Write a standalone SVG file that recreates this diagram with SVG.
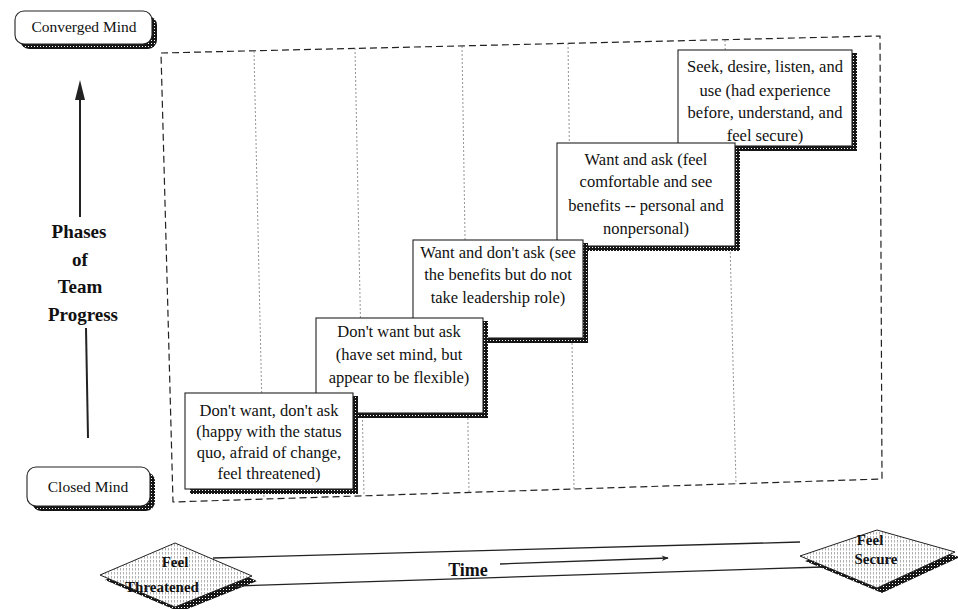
<svg xmlns="http://www.w3.org/2000/svg" width="958" height="609" viewBox="0 0 958 609">
<defs>
<pattern id="dots" width="3" height="3" patternUnits="userSpaceOnUse"><rect width="3" height="3" fill="#161616"/><rect x="1" y="1" width="1" height="1" fill="#fff"/></pattern>
<pattern id="hatch" width="3" height="4" patternUnits="userSpaceOnUse"><rect width="3" height="4" fill="#fff"/><rect x="0" y="0" width="0.8" height="2.5" fill="#9a9a9a"/></pattern>
<marker id="arr" viewBox="0 0 10 10" refX="9" refY="5" markerWidth="9" markerHeight="7" orient="auto" markerUnits="userSpaceOnUse"><path d="M0,1 L10,5 L0,9 L3,5 Z" fill="#222"/></marker>
</defs>
<style>
.frame{fill:none;stroke:#222;stroke-width:1.2;stroke-dasharray:7 4}
.grid{stroke:#777;stroke-width:0.8;stroke-dasharray:2 2}
.box{fill:#fff;stroke:#222;stroke-width:1.1}
.sh{fill:url(#dots)}
.t{font-family:"Liberation Serif","Times New Roman",serif;font-size:16.5px;fill:#111;text-anchor:middle}
.lbl{font-size:15.5px}
.b{font-weight:bold}
.ln{stroke:#222;stroke-width:2;fill:none}
.tl{stroke:#222;stroke-width:1.3;fill:none}
</style>

<g id="frame">
<polygon class="frame" points="161,53 880,36 882,479 173,502"/>
<line class="grid" x1="254" y1="51" x2="264" y2="499"/>
<line class="grid" x1="355" y1="48" x2="364" y2="496"/>
<line class="grid" x1="462" y1="46" x2="469" y2="492"/>
<line class="grid" x1="568" y1="43" x2="574" y2="489"/>
<line class="grid" x1="725" y1="40" x2="736" y2="484"/>
</g>

<g id="step5">
<rect class="sh" x="683" y="53" width="174" height="98"/>
<rect class="box" x="678" y="50" width="174" height="96"/>
<text class="t" x="765" y="72">Seek, desire, listen, and</text>
<text class="t" x="765" y="96">use (had experience</text>
<text class="t" x="765" y="118">before, understand, and</text>
<text class="t" x="765" y="141">feel secure)</text>
</g>

<g id="step4">
<rect class="sh" x="562" y="146" width="178" height="105"/>
<rect class="box" x="557" y="143" width="178" height="103"/>
<text class="t" x="646" y="165">Want and ask (feel</text>
<text class="t" x="646" y="187">comfortable and see</text>
<text class="t" x="646" y="211">benefits -- personal and</text>
<text class="t" x="646" y="234">nonpersonal)</text>
</g>

<g id="step3">
<rect class="sh" x="418" y="243" width="170" height="100"/>
<rect class="box" x="413" y="240" width="170" height="98"/>
<text class="t" x="498" y="258">Want and don't ask (see</text>
<text class="t" x="498" y="280">the benefits but do not</text>
<text class="t" x="498" y="303">take leadership role)</text>
</g>

<g id="step2">
<rect class="sh" x="321" y="321" width="167" height="97"/>
<rect class="box" x="316" y="318" width="167" height="95"/>
<text class="t" x="399" y="337">Don't want but ask</text>
<text class="t" x="399" y="360">(have set mind, but</text>
<text class="t" x="399" y="383">appear to be flexible)</text>
</g>

<g id="step1">
<rect class="sh" x="190" y="396" width="168" height="98"/>
<rect class="box" x="185" y="393" width="168" height="96"/>
<text class="t" x="269" y="416">Don't want, don't ask</text>
<text class="t" x="269" y="437">(happy with the status</text>
<text class="t" x="269" y="458">quo, afraid of change,</text>
<text class="t" x="269" y="479">feel threatened)</text>
</g>

<g id="converged-mind">
<rect class="sh" x="20" y="16" width="137" height="33" rx="9"/>
<rect class="box" x="15" y="11" width="137" height="33" rx="9"/>
<text class="t lbl" x="84" y="32">Converged Mind</text>
</g>

<g id="closed-mind">
<rect class="sh" x="32" y="472" width="123" height="39" rx="9"/>
<rect class="box" x="27" y="467" width="123" height="39" rx="9"/>
<text class="t lbl" x="88" y="492">Closed Mind</text>
</g>

<g id="phases">
<text class="t b" style="font-size:19px" x="79" y="238">Phases</text>
<text class="t b" style="font-size:19px" x="80" y="266">of</text>
<text class="t b" style="font-size:19px" x="80" y="293">Team</text>
<text class="t b" style="font-size:19px" x="83" y="321">Progress</text>
</g>

<g id="feel-threatened">
<polygon points="105,580 180,548 257,581 180,612" class="sh"/>
<polygon points="100,575 175,543 252,576 175,607" fill="url(#hatch)" stroke="#222" stroke-width="1"/>
<text class="t b" style="font-size:15px" x="175" y="567">Feel</text>
<text class="t b" style="font-size:15px" x="162" y="592">Threatened</text>
</g>

<g id="feel-secure">
<polygon points="805,561 882,535 960,557 882,593" class="sh"/>
<polygon points="800,556 877,530 955,552 877,588" fill="url(#hatch)" stroke="#222" stroke-width="1"/>
<text class="t b" style="font-size:15px" x="870" y="545">Feel</text>
<text class="t b" style="font-size:15px" x="876" y="564">Secure</text>
</g>

<g id="connectors">
<line class="ln" x1="80" y1="98" x2="80" y2="217"/>
<line class="ln" x1="86" y1="328" x2="88" y2="438"/>
<polygon points="80,80 75,100 85,100" fill="#222"/>
<line class="tl" x1="213" y1="558" x2="800" y2="542"/>
<line class="tl" x1="235" y1="586" x2="823" y2="567"/>
<line class="tl" x1="500" y1="564" x2="668" y2="558" marker-end="url(#arr)"/>
</g>
<text class="t b" style="font-size:18px" x="468" y="576">Time</text>
</svg>
